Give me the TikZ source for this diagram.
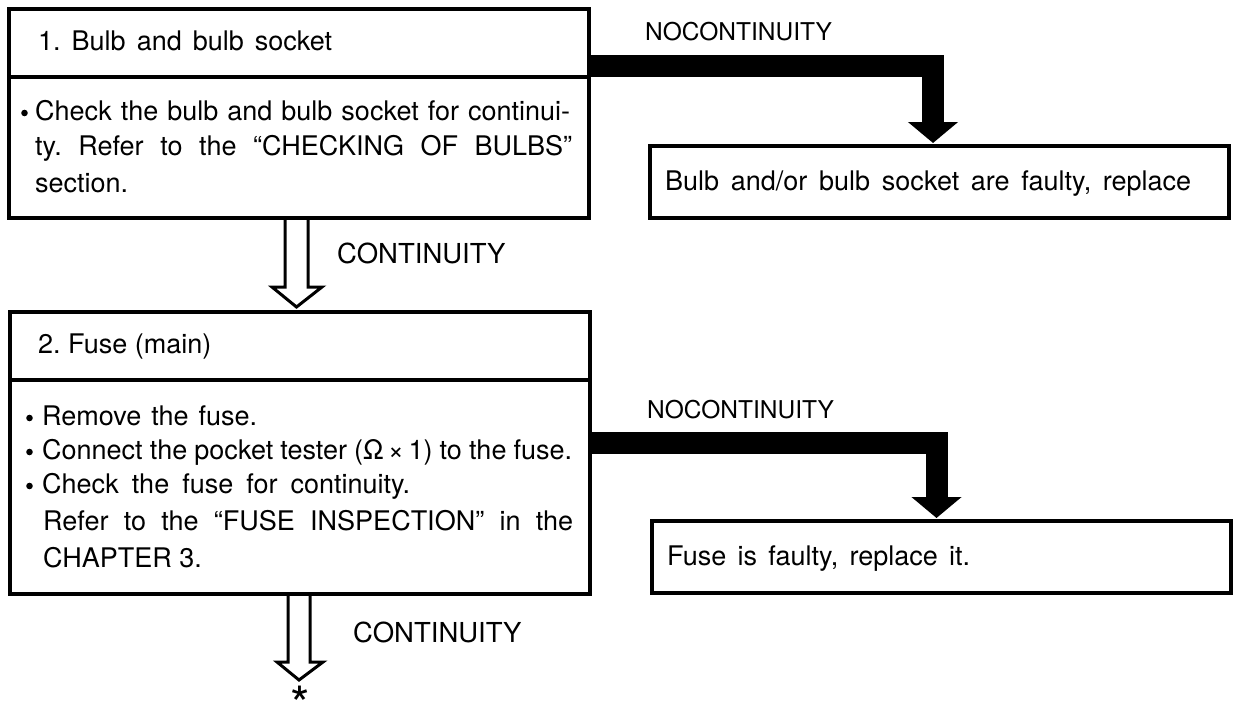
\documentclass[tikz,border=0pt]{standalone}
\usepackage{fontspec}
\setmainfont{TeX Gyre Heros}
\usetikzlibrary{arrows.meta,calc}
\frenchspacing
\begin{document}
\begin{tikzpicture}[x=1pt,y=-1pt,
  box/.style={draw, line width=3.5pt, outer sep=0pt, inner sep=0pt},
  txt/.style={anchor=base west, inner sep=0pt, font=\fontsize{27}{30}\selectfont},
  nolbl/.style={anchor=base west, inner sep=0pt, font=\fontsize{24.5}{28}\selectfont},
  clbl/.style={anchor=base west, inner sep=0pt, font=\fontsize{27.5}{30}\selectfont},
  dot/.style={fill=black},
  fatarrow/.style={line width=22pt, line join=miter, -{Triangle[width=49pt,length=21pt]}, shorten >=3pt},
  hollow/.style={line width=3pt, line join=miter}]
\useasboundingbox (0,0) rectangle (1233,712);
% step 1
\node[box, minimum width=580pt, minimum height=68pt] (b1head) at (299,43) {};
\node[box, minimum width=580pt, minimum height=141pt] (b1body) at (299,147.5) {};
\node[txt] (b1t) at (38,50) {\hbox to 294pt{1. Bulb and bulb socket}};
\node[txt] (b1l1) at (35,120) {\hbox to 535pt{Check the bulb and bulb socket for continui-}};
\node[txt] (b1l2) at (35,155) {\hbox to 537pt{ty. Refer to the “CHECKING OF BULBS”}};
\node[txt] (b1l3) at (35,192) {section.};
\fill[dot] ($(b1l1.base west)+(-10.5,-7)$) circle (3.3pt);
% result 1
\node[box, minimum width=579pt, minimum height=72pt] (r1) at (939.5,182) {};
\node[txt] (r1t) at (665,190) {\hbox to 526pt{Bulb and/or bulb socket are faulty, replace}};
\node[nolbl] (nc1) at (645,40) {NOCONTINUITY};
\draw[fatarrow] ($(b1head.east)+(0,22.5)$) -| ($(r1.north)+(-6.5,0)$);
% continuity 1
\draw[hollow] ($(b1body.south)+(-14,0)$) -- ++(0,69) -- ++(-13,0) -- ++(24.5,20) -- ++(25.5,-20) -- ++(-14,0) -- ++(0,-69);
\node[clbl] (c1) at (337,263) {CONTINUITY};
% step 2
\node[box, minimum width=580pt, minimum height=68pt] (b2head) at (300,346) {};
\node[box, minimum width=580pt, minimum height=214pt] (b2body) at (300,487) {};
\node[txt] (b2t) at (38,353) {2. Fuse (main)};
\node[txt] (b2l1) at (42,425) {\hbox to 215pt{Remove the fuse.}};
\node[txt] (b2l2) at (42,459) {\hbox to 530pt{Connect the pocket tester (Ω\,×\,1) to the fuse.}};
\node[txt] (b2l3) at (42,493) {\hbox to 368pt{Check the fuse for continuity.}};
\node[txt] (b2l4) at (43,530) {\hbox to 530pt{Refer to the “FUSE INSPECTION” in the}};
\node[txt] (b2l5) at (43,567) {CHAPTER 3.};
\foreach \l in {b2l1,b2l2,b2l3}
  \fill[dot] ($(\l.base west)+(-12.5,-7)$) circle (3.3pt);
% result 2
\node[box, minimum width=579pt, minimum height=72pt] (r2) at (941.5,557) {};
\node[txt] (r2t) at (667,565) {\hbox to 303pt{Fuse is faulty, replace it.}};
\node[nolbl] (nc2) at (647,418) {NOCONTINUITY};
\draw[fatarrow] ($(b2body.east)+(0,-44)$) -| ($(r2.north)+(-5,0)$);
% continuity 2
\draw[hollow] ($(b2body.south)+(-12,0)$) -- ++(0,68) -- ++(-11,0) -- ++(22,18) -- ++(24,-18) -- ++(-13,0) -- ++(0,-68);
\node[clbl] (c2) at (353,642) {CONTINUITY};
\node[anchor=north, inner sep=0pt, font=\fontsize{50}{50}\selectfont] (ast) at (300,686) {\raisebox{-0.43em}[0.29em][0pt]{*}};
\end{tikzpicture}
\end{document}
